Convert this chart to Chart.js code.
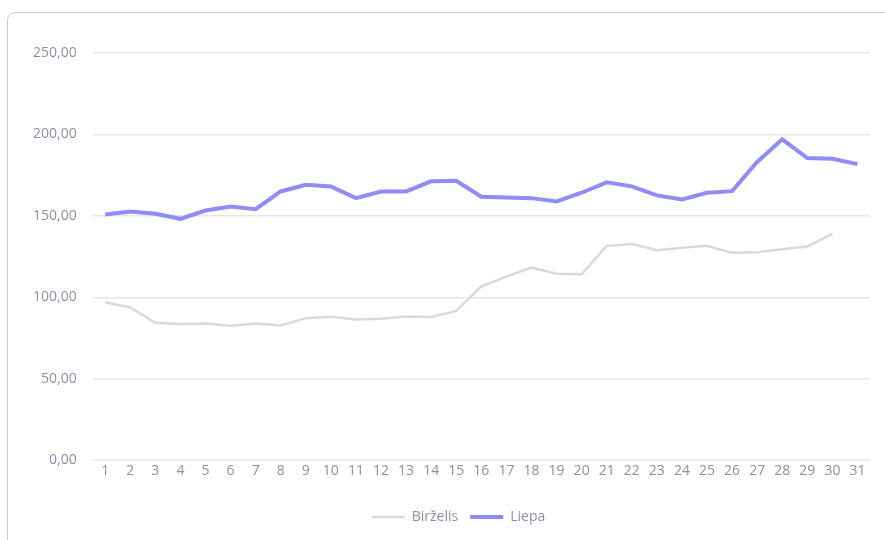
<!DOCTYPE html>
<html>
<head>
<meta charset="utf-8">
<script src="https://cdn.jsdelivr.net/npm/chart.js@4"></script>
<style>
  html, body { margin: 0; padding: 0; background: #fff; overflow: hidden; }
  .card {
    position: absolute; left: 7px; top: 12px; width: 920px; height: 600px;
    border: 1px solid #c9c9c9; border-radius: 8px;
  }
  .wrap { position: absolute; left: 0; top: 0; width: 885px; height: 540px; }
</style>
</head>
<body>
<div class="card"></div>
<div class="wrap"><canvas id="lineChart"></canvas></div>
<script>
// days of month
const days = Array.from({ length: 31 }, (_, i) => String(i + 1));

// June (Birželis) – 30 days
const birzelis = [
  96.9, 93.8, 84.4, 83.6, 83.9, 82.5, 83.9, 82.7, 87.2, 88.1,
  86.4, 86.8, 88.2, 87.9, 91.7, 106.7, 112.7, 118.2, 114.5, 114.1,
  131.6, 132.8, 128.9, 130.5, 131.6, 127.3, 127.7, 129.5, 131.2, 139.0
];

// July (Liepa) – 31 days
const liepa = [
  150.9, 152.7, 151.3, 148.2, 153.3, 155.8, 154.1, 165.0, 169.1, 168.1,
  160.9, 165.0, 165.0, 171.2, 171.6, 161.8, 161.3, 160.9, 158.9, 164.2,
  170.6, 168.1, 162.6, 160.1, 164.2, 165.2, 183.1, 197.0, 185.5, 185.1,
  181.8
];

const tickColor = '#8a90a8';
const fontFamily = '"Open Sans", sans-serif';

function formatNum(v) {
  return v.toFixed(2).replace('.', ',');
}

// legend sits a little right of the canvas centre
const legendShift = {
  id: 'legendShift',
  afterLayout(chart) {
    if (!chart.legend) return;
    chart.legend.left += 15;
    chart.legend.right += 15;
  }
};

const ctx = document.getElementById('lineChart').getContext('2d');
new Chart(ctx, {
  type: 'line',
  data: {
    labels: days,
    datasets: [
      {
        label: 'Birželis',
        data: birzelis,
        borderColor: '#d9d9d9',
        backgroundColor: '#d9d9d9',
        borderWidth: 2.5,
        pointRadius: 0,
        tension: 0,
        fill: false,
      },
      {
        label: 'Liepa',
        data: liepa,
        borderColor: '#8f8cf4',
        backgroundColor: '#8f8cf4',
        borderWidth: 4,
        pointRadius: 0,
        tension: 0,
        fill: false,
      },
    ],
  },
  options: {
    responsive: true,
    maintainAspectRatio: false,
    animation: false,
    layout: {
      padding: { left: 17, right: 15, top: 53, bottom: 6 }
    },
    plugins: {
      legend: {
        position: 'bottom',
        labels: {
          usePointStyle: true,
          pointStyle: 'line',
          pointStyleWidth: 33,
          color: tickColor,
          font: { family: fontFamily, size: 14 },
          padding: 12
        }
      },
      tooltip: { enabled: false }
    },
    scales: {
      x: {
        offset: true,
        grid: { display: false, drawTicks: false },
        border: { display: false },
        ticks: {
          color: tickColor,
          font: { family: fontFamily, size: 14 },
          maxRotation: 0,
          autoSkip: false,
          padding: 2
        },
        afterFit: function (scale) {
          // extra room between the day labels and the legend
          scale.height += 17;
        }
      },
      y: {
        min: 0,
        max: 250,
        grid: { color: '#e6e6e6', drawTicks: false, lineWidth: 1.5 },
        border: { display: false },
        ticks: {
          stepSize: 50,
          color: tickColor,
          font: { family: fontFamily, size: 14 },
          padding: 16,
          callback: function (value) {
            return formatNum(value);
          }
        }
      }
    }
  },
  plugins: [legendShift]
});
</script>
</body>
</html>
